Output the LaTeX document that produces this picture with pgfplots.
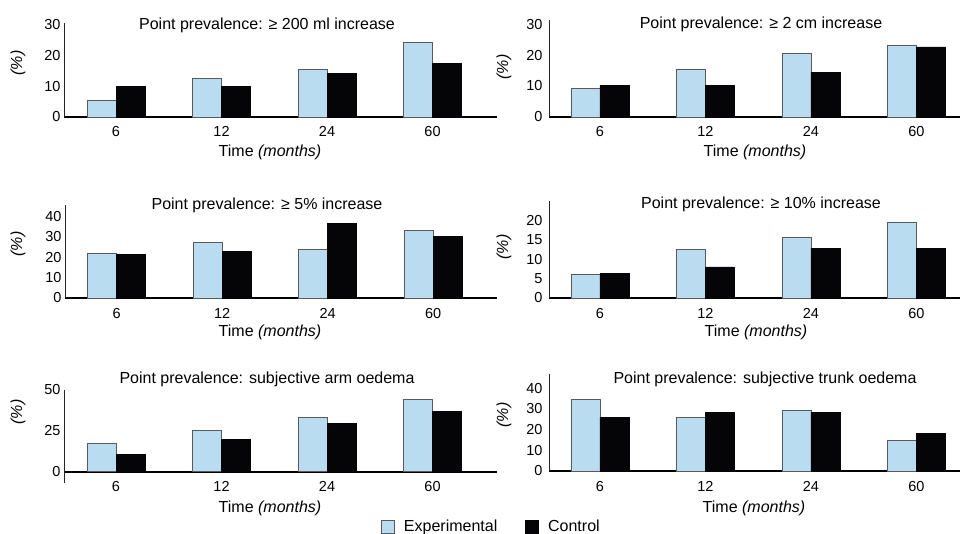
\documentclass[border=0pt]{standalone}
\usepackage{fontspec}
\setmainfont{Liberation Sans}
\usepackage{pgfplots}
\pgfplotsset{compat=1.18}

\definecolor{expblue}{HTML}{BADCF0}
\definecolor{expedge}{HTML}{5A5A5A}
\definecolor{ctrlblk}{HTML}{050508}

\newcommand\lab{\fontsize{16}{19}\selectfont}

\pgfplotsset{
  panel/.style={
    scale only axis, clip=false, anchor=south west,
    axis x line*=bottom, axis y line*=left,
    x axis line style={line width=2pt,black},
    y axis line style={line width=0.9pt,black!85},
    major tick length=0pt,
    ymin=0,
    xtick={0,1,2,3}, xticklabels={6,12,24,60},
    tick label style={font=\fontsize{14.5}{17}\selectfont},
    xticklabel style={anchor=base, yshift=-20pt},
    /pgf/number format/assume math mode=true,
  },
  leftpanel/.style={panel, width=433pt, xmin=-0.493, xmax=3.611},
  rightpanel/.style={panel, width=411pt, xmin=-0.483, xmax=3.413,
    yticklabel style={xshift=-3pt}},
  expbar/.style={ybar, bar width=29pt, bar shift=-14.5pt, fill=expblue, draw=expedge, line width=0.8pt},
  ctrlbar/.style={ybar, bar width=29pt, bar shift=14.5pt, fill=ctrlblk, draw=ctrlblk, line width=0.8pt},
}

\begin{document}
\begin{tikzpicture}

% row 1
\begin{axis}[leftpanel, at={(64pt,-117pt)}, height=94pt, ymax=30.6, ytick={0,10,20,30}]
\addplot[expbar] coordinates {(0,5.5) (1,12.5) (2,15.5) (3,24.4)};
\addplot[ctrlbar] coordinates {(0,10) (1,10) (2,14.3) (3,17.4)};
\end{axis}

\begin{axis}[rightpanel, at={(549pt,-117pt)}, height=97pt, ymax=31.3, ytick={0,10,20,30}]
\addplot[expbar] coordinates {(0,9.3) (1,15.5) (2,20.5) (3,23.1)};
\addplot[ctrlbar] coordinates {(0,10.1) (1,10.1) (2,14.3) (3,22.6)};
\end{axis}

% row 2
\begin{axis}[leftpanel, at={(65pt,-298pt)}, width=432pt, xmin=-0.489, xmax=3.605,
  height=93pt, ymax=45.6, ytick={0,10,20,30,40}]
\addplot[expbar] coordinates {(0,21.8) (1,27.2) (2,23.8) (3,33)};
\addplot[ctrlbar] coordinates {(0,21.3) (1,23) (2,36.5) (3,30.3)};
\end{axis}

\begin{axis}[rightpanel, at={(549pt,-298pt)}, height=96.6pt, ymax=24.9, ytick={0,5,10,15,20}]
\addplot[expbar] coordinates {(0,6.0) (1,12.4) (2,15.5) (3,19.6)};
\addplot[ctrlbar] coordinates {(0,6.3) (1,8.0) (2,12.8) (3,12.7)};
\end{axis}

% row 3
\begin{axis}[leftpanel, at={(64pt,-471.7pt)}, height=81.7pt, ymax=50, ytick={0,25,50},
  legend columns=2,
  legend style={at={(axis description cs:0.732,-0.673)}, anchor=west,
    draw=none, fill=none, inner sep=0pt, font=\lab,
    nodes={inner sep=0pt},
    /tikz/every odd column/.append style={column sep=9pt},
    /tikz/every even column/.append style={column sep=28pt}},
  legend image code/.code={%
    \path (0pt,-12pt) (0pt,12pt);
    \draw[#1, bar width=0pt, bar shift=0pt] (0pt,-6.5pt) rectangle (13pt,6.5pt);}]
\addplot[expbar] coordinates {(0,17.5) (1,25.1) (2,33.1) (3,44.3)};
\addplot[ctrlbar] coordinates {(0,10.3) (1,19.6) (2,29.4) (3,36.7)};
\legend{Experimental, Control}
\draw[line width=0.9pt, black!85] (axis cs:-0.493,0) -- ++(0pt,-11.5pt);
\end{axis}

\begin{axis}[rightpanel, at={(549pt,-471pt)}, height=97pt, ymax=46.9, ytick={0,10,20,30,40}]
\addplot[expbar] coordinates {(0,34.8) (1,25.9) (2,29.3) (3,14.8)};
\addplot[ctrlbar] coordinates {(0,26.1) (1,28.4) (2,28.4) (3,18.2)};
\end{axis}

% titles
\begin{scope}[every node/.style={font=\lab, anchor=base}]
\node at (267pt,-29.3pt) {Point prevalence: ≥ 200 ml increase};
\node at (761pt,-28.3pt) {Point prevalence: ≥ 2 cm increase};
\node at (267pt,-209.3pt) {Point prevalence: ≥ 5\% increase};
\node at (761pt,-209pt) {Point prevalence: ≥ 10\% increase};
\node at (267pt,-383.3pt) {Point prevalence: subjective arm oedema};
\node at (765pt,-383.3pt) {Point prevalence: subjective trunk oedema};
% x labels
\node at (270pt,-157pt) {Time \textit{(months)}};
\node at (755pt,-157pt) {Time \textit{(months)}};
\node at (270pt,-336.7pt) {Time \textit{(months)}};
\node at (756pt,-336.7pt) {Time \textit{(months)}};
\node at (270pt,-512.5pt) {Time \textit{(months)}};
\node at (754pt,-512.5pt) {Time \textit{(months)}};
\end{scope}

% y labels
\begin{scope}[every node/.style={font=\lab, rotate=90, anchor=center}]
\node at (18pt,-63pt) {\textit{(\%)}};
\node at (504pt,-67pt) {\textit{(\%)}};
\node at (18pt,-244pt) {\textit{(\%)}};
\node at (504pt,-247pt) {\textit{(\%)}};
\node at (18pt,-412pt) {\textit{(\%)}};
\node at (504pt,-415pt) {\textit{(\%)}};
\end{scope}

\pgfresetboundingbox
\path[use as bounding box] (0pt,0pt) rectangle (960pt,-534pt);
\end{tikzpicture}
\end{document}
